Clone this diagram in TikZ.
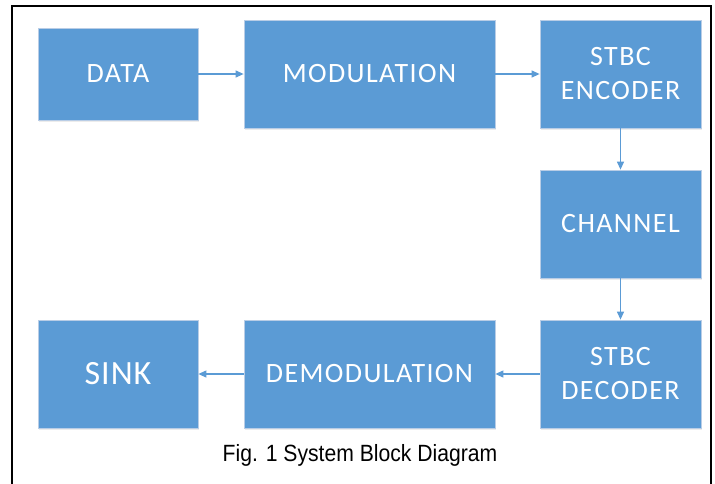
\documentclass[tikz,border=0pt]{standalone}
\usepackage{fontspec}
\setmainfont{Carlito}[LetterSpace=5]
\newfontfamily\sinkfont{Carlito}[LetterSpace=3]
\newfontfamily\capfont{Liberation Sans}
\usetikzlibrary{arrows.meta,shadows}
\definecolor{blockblue}{HTML}{5B9BD5}
\definecolor{blockedge}{HTML}{B9CDE6}
\tikzset{
  block/.style={draw=blockedge, line width=0.8pt, fill=blockblue,
    text=white, inner sep=0pt, align=center,
    font=\fontsize{28}{34}\selectfont,
    drop shadow={shadow xshift=1.2pt, shadow yshift=-1.8pt, opacity=0.18, fill=gray!80}},
  flow/.style={draw=blockblue, line width=1.2pt,
    -{Triangle[length=8pt,width=7pt]}}
}
\begin{document}
\begin{tikzpicture}[x=1pt,y=-1pt]
  \useasboundingbox (0,0) rectangle (715,483);
  \clip (0,0) rectangle (715,483);
  \fill[white] (0,0) rectangle (715,483);
  % outer frame
  \draw[line width=2.4pt, black] (12,6) rectangle (711,520);

  % top row
  \node[block, minimum width=160pt, minimum height=92pt]  (data)  at (118,74)   {DATA};
  \node[block, minimum width=251pt, minimum height=108pt] (mod)   at (369.5,74) {MODULATION};
  \node[block, minimum width=161pt, minimum height=108pt] (enc)   at (620.5,74) {STBC\\ENCODER};
  % right column
  \node[block, minimum width=161pt, minimum height=108pt] (chan)  at (620.5,224) {CHANNEL};
  % bottom row
  \node[block, minimum width=161pt, minimum height=108pt] (dec)   at (620.5,374) {STBC\\DECODER};
  \node[block, minimum width=251pt, minimum height=108pt] (demod) at (369.5,374) {DEMODULATION};
  \node[block, minimum width=160pt, minimum height=108pt,
        font=\sinkfont\fontsize{34}{40}\selectfont] (sink) at (118,374) {SINK};

  % signal flow
  \draw[flow] (data) -- (mod);
  \draw[flow] (mod) -- (enc);
  \draw[flow] (enc) -- (chan);
  \draw[flow] (chan) -- (dec);
  \draw[flow] (dec) -- (demod);
  \draw[flow] (demod) -- (sink);

  % caption
  \node[anchor=base, inner sep=0pt, font=\capfont\fontsize{23.5}{28}\selectfont] (cap)
    at (360,461) {\scalebox{0.9}[1]{Fig. 1 System Block Diagram}};
\end{tikzpicture}
\end{document}
